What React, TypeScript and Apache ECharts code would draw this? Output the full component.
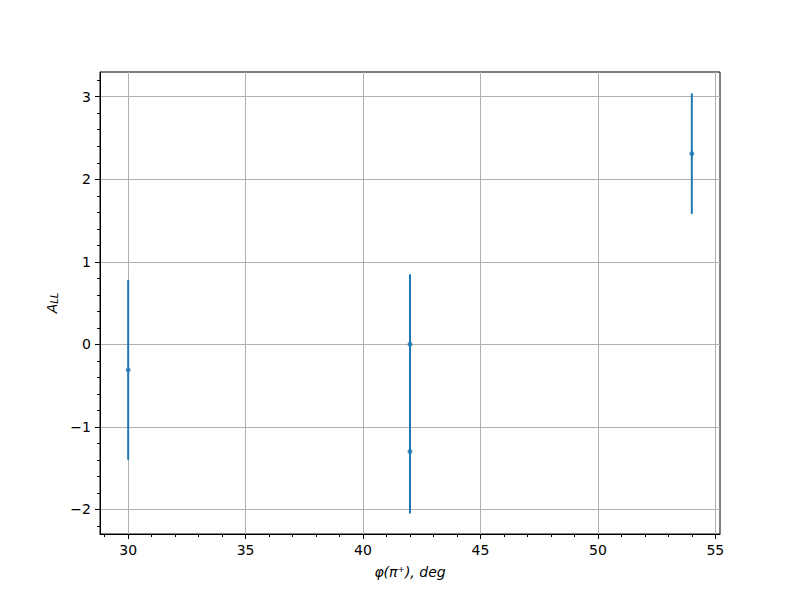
import React, { useEffect, useRef } from "react";
import * as echarts from "echarts";

const xValues = [30, 42, 42, 54];
const yValues = [-0.31, 0.0, -1.3, 2.31];
const yErrors = [1.09, 0.85, 0.75, 0.73];

const xMajorTicks = [30, 35, 40, 45, 50, 55];
const xMinorTicks = [29, 31, 32, 33, 34, 36, 37, 38, 39, 41, 42, 43, 44, 46, 47, 48, 49, 51, 52, 53, 54];
const yMajorTicks = [-2, -1, 0, 1, 2, 3];
const yMinorTicks = [-2.2, -1.8, -1.6, -1.4, -1.2, -0.8, -0.6, -0.4, -0.2, 0.2, 0.4, 0.6, 0.8, 1.2, 1.4, 1.6, 1.8, 2.2, 2.4, 2.6, 2.8, 3.2];

const X_MIN = 28.8;
const X_MAX = 55.2;
const Y_MIN = -2.3;
const Y_MAX = 3.3;

const COLOR = "#1f77b4";
const FONT = "DejaVu Sans";

export default function App() {
  const ref = useRef<HTMLDivElement>(null);
  useEffect(() => {
    if (!ref.current) return;
    const chart = echarts.init(ref.current, undefined, { renderer: "svg" });
    const fmt = (v: number) => (v < 0 ? "\u2212" + Math.abs(v) : String(v));
    const errData = xValues.map((x, i) => [x, yValues[i] - yErrors[i], yValues[i] + yErrors[i]]);
    const ptData = xValues.map((x, i) => [x, yValues[i]]);
    chart.setOption({
      animation: false,
      backgroundColor: "#ffffff",
      textStyle: { fontFamily: FONT },
      grid: {
        left: 100,
        top: 72,
        width: 620,
        height: 462,
        show: true,
        borderColor: "#000000",
        borderWidth: 1,
        containLabel: false,
      },
      xAxis: [
        {
          type: "value",
          min: X_MIN,
          max: X_MAX,
          position: "bottom",
          name: "\u03c6(\u03c0\u207a), deg",
          nameLocation: "middle",
          nameGap: 31,
          nameTextStyle: { fontFamily: FONT, fontSize: 14, fontStyle: "italic", color: "#000" },
          axisLine: { show: true, onZero: false, lineStyle: { color: "#000", width: 1 } },
          axisTick: { show: true, customValues: xMajorTicks, length: 5, lineStyle: { color: "#000", width: 1 } },
          axisLabel: { show: true, customValues: xMajorTicks, formatter: fmt, color: "#000", fontSize: 14, fontFamily: FONT, margin: 9 },
          splitLine: { show: true, lineStyle: { color: "#b0b0b0", width: 1 } },
        },
        {
          type: "value",
          min: X_MIN,
          max: X_MAX,
          position: "bottom",
          axisLine: { show: false, onZero: false },
          axisTick: { show: true, customValues: xMinorTicks, length: 3, lineStyle: { color: "#000", width: 1 } },
          axisLabel: { show: false },
          splitLine: { show: false },
        },
      ],
      yAxis: [
        {
          type: "value",
          min: Y_MIN,
          max: Y_MAX,
          position: "left",
          name: "{a|A}{s|LL}",
          nameLocation: "middle",
          nameGap: 40,
          nameRotate: 90,
          nameTextStyle: {
            color: "#000",
            rich: {
              a: { fontFamily: FONT, fontSize: 14, fontStyle: "italic", color: "#000", verticalAlign: "bottom", lineHeight: 18 },
              s: { fontFamily: FONT, fontSize: 10, fontStyle: "italic", color: "#000", verticalAlign: "bottom", lineHeight: 12 },
            },
          },
          axisLine: { show: true, onZero: false, lineStyle: { color: "#000", width: 1 } },
          axisTick: { show: true, customValues: yMajorTicks, length: 5, lineStyle: { color: "#000", width: 1 } },
          axisLabel: { show: true, customValues: yMajorTicks, formatter: fmt, color: "#000", fontSize: 14, fontFamily: FONT, margin: 9 },
          splitLine: { show: true, lineStyle: { color: "#b0b0b0", width: 1 } },
        },
        {
          type: "value",
          min: Y_MIN,
          max: Y_MAX,
          position: "left",
          axisLine: { show: false, onZero: false },
          axisTick: { show: true, customValues: yMinorTicks, length: 3, lineStyle: { color: "#000", width: 1 } },
          axisLabel: { show: false },
          splitLine: { show: false },
        },
      ],
      series: [
        {
          type: "custom",
          xAxisIndex: 0,
          yAxisIndex: 0,
          data: errData,
          renderItem: (params: any, api: any) => {
            const x = api.value(0);
            const lo = api.coord([x, api.value(1)]);
            const hi = api.coord([x, api.value(2)]);
            return {
              type: "line",
              shape: { x1: lo[0], y1: lo[1], x2: hi[0], y2: hi[1] },
              style: { stroke: COLOR, lineWidth: 2 },
            };
          },
          z: 3,
        },
        {
          type: "scatter",
          xAxisIndex: 0,
          yAxisIndex: 0,
          data: ptData,
          symbol: "circle",
          symbolSize: 5,
          itemStyle: { color: COLOR },
          z: 4,
        },
      ],
    });
    return () => chart.dispose();
  }, []);
  return (
    <div
      ref={ref}
      style={{ position: "fixed", left: 0, top: 0, width: 800, height: 600, background: "#fff" }}
    />
  );
}
